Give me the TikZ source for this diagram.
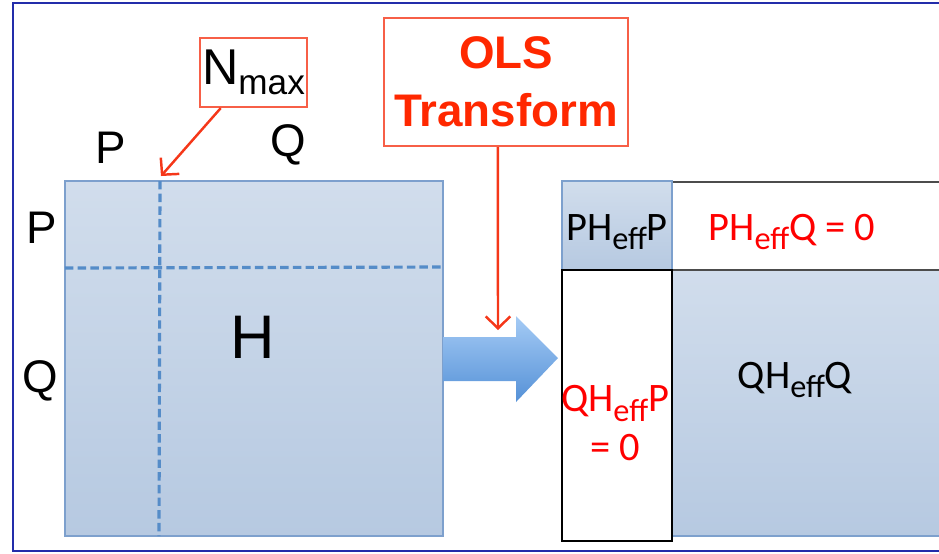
\documentclass[tikz,border=0pt]{standalone}
\usepackage{fontspec}
\setmainfont{Liberation Sans}
\newfontfamily\calfont{Carlito}
\usetikzlibrary{arrows.meta, positioning, calc}

\definecolor{frameblue}{RGB}{35,45,170}
\definecolor{blocktop}{RGB}{209,221,236}
\definecolor{blockbot}{RGB}{182,201,225}
\definecolor{blockedge}{RGB}{125,160,205}
\definecolor{dashblue}{RGB}{85,140,200}
\definecolor{callred}{RGB}{245,55,25}
\definecolor{olsred}{RGB}{255,40,0}
\definecolor{eqred}{RGB}{255,0,0}
\definecolor{arrtop}{RGB}{165,203,245}
\definecolor{arrbot}{RGB}{85,145,215}

% subscript "eff" for the right-hand blocks
\newcommand{\effsub}{\raisebox{-2.6pt}{\fontsize{9.2}{10}\selectfont eff}}

\begin{document}
\begin{tikzpicture}[
  x=0.01cm, y=-0.01cm,
  lbl/.style={inner sep=0pt, font=\fontsize{13}{15}\selectfont},
  callbox/.style={draw=callred!80, line width=0.6pt, inner sep=0pt},
  callarrow/.style={draw=callred, line width=0.7pt, -{Straight Barb[length=3.4pt, width=7pt]}},
  block/.style={top color=blocktop, bottom color=blockbot, draw=blockedge, line width=0.5pt},
  divider/.style={draw=dashblue, line width=0.9pt, dash pattern=on 2.4pt off 1.2pt},
  eqtxt/.style={inner sep=0pt, font=\calfont\fontsize{11.5}{13.7}\selectfont, align=center}
]
  \clip (0,0) rectangle (939,553);
  \draw[frameblue, line width=0.7pt] (990,3) -- (13,3) -- (13,551) -- (990,551);

  % Hamiltonian matrix before the transform
  \shade[block] (65,181) rectangle (443,536);
  \draw[divider] (160,181) -- (159,536);
  \draw[divider] (65,268) -- (443,267);
  \coordinate (nmaxtip) at (161,176);

  \node[lbl] (pcol) at (111,148) {P};
  \node[lbl] (qcol) at (288,145) {Q};
  \node[lbl] (prow) at (42,228) {P};
  \node[lbl] (qrow) at (40,381) {Q};
  \node[lbl, font=\fontsize{17.5}{20}\selectfont] (hlab) at (253,337) {H};

  \node[callbox, minimum width=1.07cm, minimum height=0.69cm] (nmax) at (253.5,72.5)
    {\fontsize{14.3}{16}\selectfont N\raisebox{-2.8pt}{\fontsize{10}{12}\selectfont max}};
  \draw[callarrow] ($(nmax.south west)!0.2!(nmax.south east)$) -- (nmaxtip);

  \node[callbox, minimum width=2.44cm, minimum height=1.28cm, align=center,
        text=olsred, font=\bfseries\fontsize{13}{16.5}\selectfont] (ols) at (506,82)
    {OLS\\Transform};
  \coordinate (olstip) at (498,330);
  \draw[callarrow] ($(ols.south west)!0.467!(ols.south east)$) -- (olstip);

  % block arrow
  \shade[top color=arrtop, bottom color=arrbot]
    (443,337) -- (516,337) -- (516,316) -- (558,358) -- (516,402) -- (516,381) -- (443,381) -- cycle;

  % effective Hamiltonian after the transform
  \shade[block] (672,270) rectangle (990,536);
  \draw[fill=white, draw=black!70, line width=0.6pt] (672,182) rectangle (990,270);
  \shade[block] (562,181) rectangle (672,270);
  \draw[fill=white, draw=black, line width=0.6pt] (562,270) rectangle (672,541);

  \node[eqtxt] (pp) at (617,232) {PH\effsub P};
  \node[eqtxt, text=eqred] (pq) at (792,232) {PH\effsub Q = 0};
  \node[eqtxt, text=eqred] (qp) at (615,423) {QH\effsub P\\= 0};
  \node[eqtxt] (qq) at (795,380) {QH\effsub Q};
\end{tikzpicture}
\end{document}
